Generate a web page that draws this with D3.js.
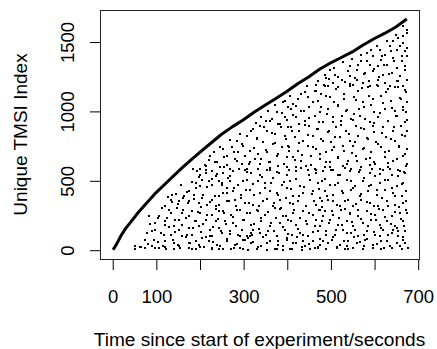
<!DOCTYPE html>
<html>
<head>
<meta charset="utf-8">
<script src="https://cdn.jsdelivr.net/npm/d3@7"></script>
<style>
  html, body { margin: 0; padding: 0; background: #fff; }
  text { font-family: "Liberation Sans", Arial, Helvetica, sans-serif; fill: #000; }
</style>
</head>
<body>
<div id="app"></div>
<script>
// first sighting of each TMSI: time (s) -> running index
const curveTime  = [2, 10, 20, 30, 45, 60, 80, 100, 120, 140, 160, 180, 200, 225, 250, 275, 300,
                    325, 350, 375, 400, 425, 450, 475, 500, 525, 550, 575, 600, 625, 650, 675];
const curveIndex = [0, 40, 100, 150, 210, 270, 340, 410, 470, 530, 590, 645, 700, 765, 830, 885, 935,
                    990, 1040, 1090, 1140, 1195, 1245, 1300, 1345, 1385, 1425, 1475, 1520, 1560, 1605, 1662];

// repeat sightings [time, index]
const repeatsLow = [
  // t 0-250, index 0-590
  [195,565],[202,541],[214,553],[229,570],[237,529],[206,505],[222,493],[191,481],[229,469],[244,493],
  [202,457],[176,421],[164,385],[187,397],[206,373],[229,361],[244,385],[138,397],[134,361],[153,349],
  [176,349],[199,337],[218,325],[237,313],[244,277],[115,301],[130,289],[149,301],[160,265],[183,277],
  [202,265],[229,253],[84,241],[107,241],[126,229],[145,217],[168,229],[191,205],[214,217],[237,205],
  [99,193],[122,181],[141,169],[153,145],[176,157],[199,169],[225,145],[244,157],[92,133],[111,121],
  [134,109],[160,97],[183,109],[206,85],[229,97],[76,73],[96,73],[122,61],[141,49],[176,49],
  [199,37],[222,61],[241,37],[53,25],[65,18],[76,13],[92,25],[107,13],[122,18],[141,8],
  [153,25],[176,13],[191,6],[210,18],[229,13],[244,6],
  // t 250-480, index 0-590
  [254,553],[277,565],[304,577],[319,553],[338,541],[361,577],[377,560],[400,541],[422,570],[449,577],
  [468,553],[266,517],[251,481],[270,493],[289,469],[308,505],[335,493],[350,481],[369,517],[388,469],
  [407,493],[430,457],[453,505],[472,481],[262,445],[254,409],[277,421],[296,397],[315,433],[338,409],
  [361,421],[380,397],[400,445],[415,385],[438,409],[461,421],[476,373],[262,349],[281,361],[304,337],
  [323,325],[346,349],[369,313],[384,361],[407,337],[426,349],[445,313],[468,325],[254,277],[273,253],
  [293,289],[315,265],[335,277],[350,253],[373,301],[392,241],[415,265],[438,277],[461,253],[476,289],
  [258,205],[277,193],[300,217],[319,181],[342,205],[361,169],[384,193],[403,217],[422,181],[445,205],
  [464,169],[251,121],[270,133],[289,109],[308,97],[323,145],[338,121],[357,133],[377,97],[396,145],
  [411,109],[430,121],[449,97],[472,133],[262,61],[281,37],[300,73],[319,49],[342,25],[361,61],
  [380,37],[400,73],[422,49],[442,25],[461,61],[476,37],[254,8],[273,2],[293,12],[312,0],
  [331,5],[354,1],[373,8],[392,0],[411,5],[434,0],[453,8],[472,14],
  // t 480-678, index 0-590
  [483,565],[502,577],[522,541],[545,565],[567,577],[590,553],[602,529],[621,577],[640,541],[659,565],
  [671,553],[480,493],[499,469],[518,481],[537,505],[556,457],[575,493],[594,469],[613,481],[632,505],
  [652,457],[667,481],[487,421],[506,397],[529,409],[548,433],[568,385],[587,421],[606,397],[625,433],
  [644,409],[663,385],[674,421],[480,349],[495,361],[514,325],[533,349],[552,313],[571,361],[590,337],
  [610,313],[629,349],[648,325],[667,337],[487,277],[506,253],[525,289],[545,265],[564,241],[583,277],
  [602,253],[621,289],[640,241],[659,265],[674,289],[480,205],[499,217],[518,181],[537,205],[552,169],
  [575,193],[594,217],[613,181],[629,205],[648,169],[667,205],[491,133],[510,109],[529,145],[548,121],
  [564,97],[583,133],[602,109],[621,145],[640,121],[655,97],[671,133],[483,61],[503,73],[522,37],
  [541,61],[560,49],[579,73],[598,37],[617,61],[636,25],[652,49],[667,73],[491,8],[514,14],
  [533,3],[552,12],[575,6],[598,14],[617,8],[640,12],[663,6],[678,14],
  // bottom strip, index 0-100
  [52,4],[63,16],[82,40],[98,9],[105,58],[117,27],[124,3],[140,70],[151,33],[155,11],
  [170,88],[178,47],[182,2],[193,64],[201,20],[215,95],[228,6],[232,52],[247,30],[262,78],
  [278,15],[285,44],[293,99],[300,4],[305,72],[312,84],[316,96],[320,108],[323,58],[335,20],
  [346,90],[354,45],[377,7],[381,66],[392,28],[400,85],[407,3],[415,51],[423,92],[434,18],
  [438,63],[450,40],[465,10],[472,22],[476,80],[495,47],[507,95],[515,18],[530,66],[537,30],
  [541,5],[553,88],[568,55],[576,24],[584,78],[606,41],[614,97],[622,12],[630,64],[644,142],
  [652,155],[660,30],[667,92],[672,48],
  // index 100-300
  [79,118],[86,187],[97,143],[104,231],[118,109],[121,205],[129,162],[135,266],[144,127],[152,215],
  [159,178],[163,283],[172,109],[177,241],[186,154],[190,205],[197,273],[204,126],[209,187],[217,248],
  [223,101],[231,162],[238,296],[243,219],[249,137],[256,262],[261,184],[269,113],[276,236],[283,171],
  [287,289],[297,142],[303,211],[309,264],[317,121],[325,187],[331,283],[336,148],[342,232],[352,107],
  [357,269],[363,194],[370,133],[376,227],[385,291],[391,167],[398,246],[402,112],[409,209],[416,285],
  [425,149],[431,231],[437,104],[446,187],[452,266],[459,131],[466,214],[473,283],[477,169],[484,243],
  [491,106],[497,195],[503,278],[512,139],[519,229],[526,177],[534,294],[538,118],[544,254],[550,196],
  [557,141],[563,286],[571,219],[578,106],[586,172],[594,258],[599,127],[604,213],[611,292],[617,158],
  [626,236],[633,109],[639,188],[647,275],[655,137],[662,223],[669,171],[675,262],
  // index 300-600
  [122,318],[128,381],[137,344],[146,402],[151,327],[158,468],[162,372],[171,415],[174,338],[183,488],
  [187,362],[191,441],[199,521],[203,309],[208,395],[214,577],[218,452],[224,343],[229,506],[236,389],
  [241,548],[245,322],[252,467],[257,596],[263,412],[268,351],[271,533],[279,446],[284,318],[290,584],
  [294,372],[299,497],[306,428],[310,559],[314,337],[322,471],[326,395],[333,582],[337,312],[344,522],
  [349,444],[355,366],[361,591],[364,478],[371,334],[378,407],[383,553],[386,302],[393,488],[399,371],
  [405,571],[409,439],[414,326],[421,510],[428,384],[432,592],[439,455],[444,317],[452,541],[458,402],
  [462,351],[468,577],[474,436],[481,308],[488,512],[492,386],[498,593],[505,349],[511,467],[518,538],
  [521,314],[527,421],[533,586],[540,357],[547,495],[551,443],[558,329],[565,562],[571,398],[576,519],
  [583,341],[589,458],[595,585],[601,312],[607,427],[613,546],[618,372],[626,499],[631,318],[637,581],
  [641,446],[648,386],[654,529],[658,307],[665,471],[669,562],[674,350]
];

const repeatsHigh = [
  // t 110-405, index 560-1190
  [392,1062],[403,1026],[377,990],[396,954],[361,930],[384,906],[403,882],[339,894],[354,858],[373,834],
  [396,822],[323,870],[308,822],[331,798],[346,774],[369,762],[388,738],[403,750],[285,786],[300,750],
  [274,738],[316,714],[335,690],[354,702],[377,678],[400,666],[254,726],[262,678],[281,654],[297,618],
  [316,630],[339,618],[361,630],[381,606],[400,594],[224,678],[235,630],[247,594],[270,582],[201,582],
  [216,606],[186,582],[308,582],[354,575],[327,654],[289,702],
  // t 405-678, index 575-1190
  [494,1182],[517,1170],[544,1182],[563,1146],[586,1170],[609,1182],[632,1158],[655,1170],[674,1134],[441,1134],
  [464,1146],[479,1122],[425,1086],[448,1098],[471,1074],[490,1110],[509,1062],[532,1086],[555,1098],[574,1062],
  [597,1086],[616,1110],[639,1074],[662,1086],[676,1062],[414,1050],[410,1014],[433,1002],[452,1026],[475,990],
  [494,1014],[517,1038],[536,1002],[555,978],[578,1026],[601,990],[624,1014],[647,1002],[666,1026],[674,990],
  [422,954],[441,930],[464,966],[483,918],[506,954],[525,930],[548,942],[567,966],[590,918],[609,954],
  [632,930],[651,966],[670,918],[410,882],[429,858],[452,894],[471,870],[494,846],[513,882],[536,858],
  [559,894],[578,870],[601,846],[620,882],[643,858],[662,894],[676,858],[418,810],[437,786],[460,822],
  [479,798],[502,774],[521,810],[544,786],[563,822],[586,798],[605,774],[628,810],[647,786],[670,822],
  [406,738],[425,714],[448,750],[467,726],[490,702],[509,738],[532,714],[551,750],[574,726],[593,702],
  [616,738],[635,714],[658,750],[676,726],[414,666],[433,642],[456,678],[475,654],[498,630],[517,666],
  [540,642],[559,678],[582,654],[601,630],[624,666],[643,642],[666,678],[422,594],[444,606],[464,582],
  [487,599],[506,575],[529,606],[548,582],[571,594],[590,611],[613,582],[632,599],[655,575],[674,606],
  // index 600-900
  [212,612],[221,648],[233,701],[239,629],[248,742],[256,668],[264,612],[271,789],[278,703],[286,641],
  [292,835],[298,762],[305,678],[313,618],[318,858],[324,735],[332,806],[340,657],[347,887],[353,720],
  [359,629],[366,843],[372,767],[379,692],[387,885],[394,615],[398,796],[406,709],[413,857],[419,643],
  [427,770],[435,682],[442,896],[448,823],[455,612],[461,741],[469,870],[475,689],[482,786],[489,635],
  [496,858],[503,720],[510,811],[517,660],[524,895],[529,748],[537,615],[543,833],[549,697],[556,778],
  [562,642],[570,880],[578,731],[584,806],[591,664],[597,891],[603,617],[610,760],[618,842],[624,702],
  [631,627],[639,797],[645,884],[652,656],[658,742],[664,825],[670,687],[675,618],
  // index 900-1200
  [330,912],[341,958],[352,925],[358,1002],[367,941],[374,1046],[381,908],[389,987],[395,1071],[401,934],
  [408,1108],[414,968],[421,1037],[428,905],[433,1122],[439,1001],[446,1177],[452,947],[459,1063],[466,1142],
  [473,918],[479,1029],[486,1189],[493,976],[499,1098],[506,921],[512,1157],[518,1040],[526,960],[532,1121],
  [539,1006],[546,1195],[552,932],[559,1077],[566,1014],[573,1163],[580,944],[588,1110],[594,1042],[601,913],
  [607,1186],[614,987],[620,1060],[627,1139],[633,927],[640,1024],[647,1174],[653,965],[660,1096],[666,1009],
  [672,1152],[676,936],
  // t 465-678, index 1175-1610
  [667,1609],[675,1561],[655,1525],[644,1501],[667,1489],[636,1465],[652,1441],[671,1429],[613,1441],[625,1405],
  [583,1417],[598,1393],[617,1369],[644,1381],[663,1357],[675,1393],[571,1357],[591,1333],[610,1321],[629,1333],
  [652,1309],[671,1297],[545,1321],[560,1297],[579,1273],[598,1285],[621,1261],[640,1273],[659,1249],[675,1225],
  [499,1297],[510,1261],[491,1237],[507,1201],[526,1225],[545,1249],[560,1225],[552,1189],[575,1201],[591,1177],
  [610,1225],[625,1201],[636,1177],[652,1213],[667,1177],[487,1177],[468,1189],
  [472,1214],[488,1262],[497,1228],[509,1309],[517,1246],[528,1353],[534,1211],[541,1287],[549,1376],[556,1239],
  [563,1332],[569,1402],[577,1263],[583,1358],[589,1215],[594,1438],[601,1301],[606,1470],[612,1242],[618,1397],
  [623,1334],[629,1503],[634,1268],[639,1429],[645,1360],[650,1545],[655,1219],[659,1470],[663,1393],[667,1537],
  [671,1321],[675,1582],[676,1453]
];

const xTicks = [0, 100, 200, 300, 400, 500, 600, 700];
const xLabels = [0, 100, 300, 500, 700];
const yTicks = [0, 500, 1000, 1500];

const width = 437, height = 349,
  box = { left: 100, right: 419, top: 10, bottom: 259 };

const svg = d3.select("#app")
.append("svg")
  .attr("width", width)
  .attr("height", height);

// R-style 4% padding around the data range
const x = d3.scaleLinear().domain([-28, 703]).range([box.left, box.right]);
const y = d3.scaleLinear().domain([-67, 1727]).range([box.bottom, box.top]);

/* points below the curve, snapped to whole pixels like R's "." */
svg.append("g")
.selectAll("rect")
.data(repeatsLow.concat(repeatsHigh))
.enter()
.append("rect")
  .attr("x", d => Math.round(x(d[0])) - 1)
  .attr("y", d => Math.round(y(d[1])) - 1)
  .attr("width", 2)
  .attr("height", 2)
  .attr("fill", "#000");

/* first-sighting curve */
const line = d3.line()
  .x((d, i) => x(curveTime[i]))
  .y(d => y(d));

svg.append("path")
  .attr("d", line(curveIndex))
  .attr("fill", "none")
  .attr("stroke", "#000")
  .attr("stroke-width", 3)
  .attr("stroke-linejoin", "round");

/* box */
svg.append("rect")
  .attr("x", box.left + 0.5)
  .attr("y", box.top + 0.5)
  .attr("width", box.right - box.left)
  .attr("height", box.bottom - box.top)
  .attr("fill", "none")
  .attr("stroke", "#222");

/* x axis */
const xAxis = d3.axisBottom(x)
  .tickValues(xTicks)
  .tickSize(10)
  .tickPadding(20)
  .tickFormat(d => xLabels.includes(d) ? d : "");

const gx = svg.append("g")
  .attr("transform", `translate(0.5,${box.bottom + 1})`)
  .call(xAxis);
gx.select(".domain").remove();
gx.selectAll("line").attr("stroke", "#000");
gx.selectAll("text").attr("font-size", 18.5).attr("fill", "#000");

/* y axis */
const yAxis = d3.axisLeft(y)
  .tickValues(yTicks)
  .tickSize(10)
  .tickFormat(d => d);

const gy = svg.append("g")
  .attr("transform", `translate(${box.left},0.5)`)
  .call(yAxis);
gy.select(".domain").remove();
gy.selectAll("line").attr("stroke", "#000");
gy.selectAll("text")
  .attr("font-size", 18.5)
  .attr("fill", "#000")
  .attr("x", 0)
  .attr("dy", null)
  .attr("text-anchor", "middle")
  .attr("transform", "translate(-26,0) rotate(-90)");

/* titles */
svg.append("text")
  .attr("x", (box.left + box.right) / 2)
  .attr("y", 346)
  .attr("text-anchor", "middle")
  .attr("font-size", 19.1)
  .text("Time since start of experiment/seconds");

svg.append("text")
  .attr("transform", `translate(27,${(box.top + box.bottom) / 2}) rotate(-90)`)
  .attr("text-anchor", "middle")
  .attr("font-size", 19)
  .text("Unique TMSI Index");
</script>
</body>
</html>
